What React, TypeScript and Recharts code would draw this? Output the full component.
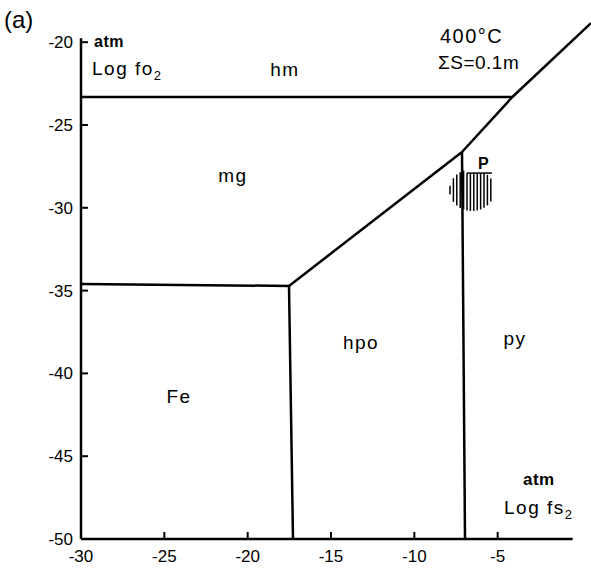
import React from "react";
import { ComposedChart, Line, Scatter, XAxis, YAxis, ReferenceLine, ReferenceDot } from "recharts";

// x: log fS2, y: log fO2 (atm), 400 °C, ΣS = 0.1 m
const xTicks = [-30, -25, -20, -15, -10, -5];
const yTicks = [-50, -45, -40, -35, -30, -25, -20];

// phase boundaries
const hmMg = [
  { x: -30, y: -23.31 },
  { x: -4.12, y: -23.31 },
];
const hmPy = [
  { x: -4.12, y: -23.31 },
  { x: 0.6, y: -18.85 },
];
const mgPy = [
  { x: -7.14, y: -26.63 },
  { x: -4.12, y: -23.31 },
];
const mgHpo = [
  { x: -17.52, y: -34.72 },
  { x: -7.14, y: -26.63 },
];
const mgFe = [
  { x: -30, y: -34.6 },
  { x: -17.52, y: -34.72 },
];
const feHpo = [
  { x: -17.52, y: -34.72 },
  { x: -17.28, y: -50 },
];
const hpoPy = [
  { x: -7.14, y: -26.63 },
  { x: -6.96, y: -50 },
];

const pField = [{ x: -6.54, y: -28.93 }];

const regions = [
  { name: "hm", x: -17.76, y: -21.62 },
  { name: "mg", x: -20.88, y: -28.02 },
  { name: "hpo", x: -13.2, y: -38.1 },
  { name: "py", x: -3.96, y: -37.86 },
  { name: "Fe", x: -24.12, y: -41.36 },
];

const font = "'Liberation Sans', Arial, sans-serif";
const boundaries = [hmMg, hmPy, mgPy, mgHpo, mgFe, feHpo, hpoPy];

function XTick({ x, y, payload }: any) {
  return (
    <g>
      {payload.value !== -30 && <line x1={x} y1={y} x2={x} y2={y - 7} stroke="#000" strokeWidth={2} />}
      <text x={x} y={y + 23} textAnchor="middle" fontSize={17} fontFamily={font} fill="#000">
        {payload.value}
      </text>
    </g>
  );
}

function YTick({ x, y, payload }: any) {
  return (
    <g>
      {payload.value !== -50 && <line x1={x} y1={y} x2={x + 7} y2={y} stroke="#000" strokeWidth={2} />}
      <text x={x - 8} y={y} dy="0.35em" textAnchor="end" fontSize={17} fontFamily={font} fill="#000">
        {payload.value}
      </text>
    </g>
  );
}

function HatchBlob({ cx, cy }: any) {
  const lines = [];
  for (let dx = -22; dx <= 21; dx += 3.4) {
    const h = Math.sqrt(Math.max(0, 1 - (dx / 22.5) ** 2)) * 21;
    let top = cy - h;
    if (dx > -6) top = Math.max(top, cy - 17);
    lines.push(<line key={dx} x1={cx + dx} y1={top} x2={cx + dx} y2={cy + h} stroke="#000" strokeWidth={1.5} />);
  }
  return (
    <g>
      {lines}
      <line x1={cx - 5} y1={cy - 17} x2={cx + 20} y2={cy - 17} stroke="#000" strokeWidth={1.5} />
      <text x={cx + 6} y={cy - 21} fontSize={16} fontWeight="bold" fontFamily={font} fill="#000">
        P
      </text>
    </g>
  );
}

const txt: React.CSSProperties = { position: "absolute", fontFamily: font, color: "#000", whiteSpace: "nowrap", lineHeight: 1 };

export default function App() {
  return (
    <div style={{ position: "absolute", left: 0, top: 0, width: 591, height: 571, background: "#fff" }}>
      <ComposedChart width={591} height={571} margin={{ top: 19, right: 0, left: 0, bottom: 0 }}>
        <XAxis
          type="number"
          dataKey="x"
          domain={[-30, 0.6]}
          ticks={xTicks}
          height={32}
          axisLine={false}
          tickLine={false}
          tickSize={0}
          tickMargin={0}
          tick={<XTick />}
          allowDataOverflow
        />
        <YAxis
          type="number"
          dataKey="y"
          domain={[-50, -18.6]}
          ticks={yTicks}
          width={81}
          axisLine={false}
          tickLine={false}
          tickSize={0}
          tickMargin={0}
          tick={<YTick />}
          allowDataOverflow
        />
        <ReferenceLine segment={[{ x: -30, y: -50 }, { x: -0.5, y: -50 }]} stroke="#000" strokeWidth={2.5} ifOverflow="visible" />
        <ReferenceLine segment={[{ x: -30, y: -50 }, { x: -30, y: -19.76 }]} stroke="#000" strokeWidth={2.5} ifOverflow="visible" />
        {boundaries.map((d, i) => (
          <Line
            key={i}
            data={d}
            dataKey="y"
            type="linear"
            stroke="#000"
            strokeWidth={2.5}
            dot={false}
            activeDot={false}
            isAnimationActive={false}
          />
        ))}
        <Scatter data={pField} dataKey="y" shape={<HatchBlob />} isAnimationActive={false} />
        {regions.map((r) => (
          <ReferenceDot
            key={r.name}
            x={r.x}
            y={r.y}
            r={0}
            stroke="none"
            label={{ value: r.name, position: "center", fill: "#000", fontSize: 19, fontFamily: font, letterSpacing: 1.5 }}
          />
        ))}
      </ComposedChart>
      <div style={{ ...txt, left: 4, top: 8, fontSize: 24 }}>(a)</div>
      <div style={{ ...txt, left: 94, top: 34, fontSize: 16, fontWeight: "bold", letterSpacing: 0.5 }}>atm</div>
      <div style={{ ...txt, left: 92, top: 59, fontSize: 19, letterSpacing: 1.5 }}>
        Log fo<sub style={{ fontSize: 13 }}>2</sub>
      </div>
      <div style={{ ...txt, left: 440, top: 26, fontSize: 20, letterSpacing: 1.5 }}>400°C</div>
      <div style={{ ...txt, left: 438, top: 53, fontSize: 19, letterSpacing: 0.5 }}>ΣS=0.1m</div>
      <div style={{ ...txt, left: 523, top: 471, fontSize: 17, fontWeight: "bold", letterSpacing: 0.5 }}>atm</div>
      <div style={{ ...txt, left: 504, top: 498, fontSize: 19, letterSpacing: 1.5 }}>
        Log fs<sub style={{ fontSize: 13 }}>2</sub>
      </div>
    </div>
  );
}
